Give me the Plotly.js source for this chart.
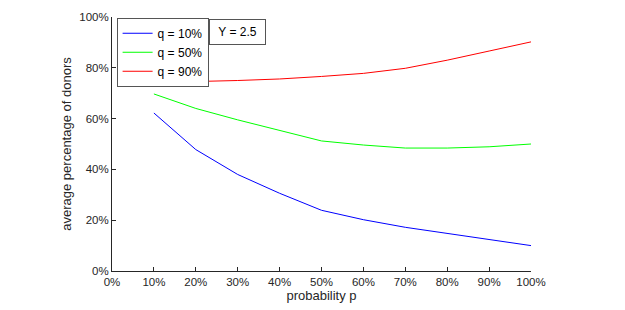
<!DOCTYPE html>
<html>
<head>
<meta charset="utf-8">
<script src="https://cdn.plot.ly/plotly-3.0.1.min.js"></script>
<style>html,body{margin:0;padding:0;background:#fff}#chart{width:625px;height:310px}</style>
</head>
<body>
<div id="chart"></div>
<script>
const probabilityP = [10, 20, 30, 40, 50, 60, 70, 80, 90, 100];
const q10 = [62.2, 47.8, 38.0, 30.6, 23.9, 20.2, 17.2, 14.8, 12.5, 10.0];
const q50 = [69.7, 64.0, 59.5, 55.3, 51.2, 49.6, 48.4, 48.4, 48.9, 50.0];
const q90 = [74.9, 74.6, 75.0, 75.6, 76.6, 77.8, 79.8, 83.0, 86.6, 90.2];
const seriesNames = ["q = 10%", "q = 50%", "q = 90%"];
const xTickVals = [0, 10, 20, 30, 40, 50, 60, 70, 80, 90, 100];
const yTickVals = [0, 20, 40, 60, 80, 100];
const annotationText = "Y = 2.5";

const colors = ["#0000ff", "#00ff00", "#ff0000"];
const series = [q10, q50, q90];
const traces = series.map((s, i) => ({
  x: probabilityP, y: s, type: "scatter", mode: "lines",
  name: seriesNames[i], line: {color: colors[i], width: 1}
}));

const FONT = "Liberation Sans, Arial, Helvetica, sans-serif";
const axisCommon = {
  range: [0, 100],
  ticks: "inside", ticklen: 4, tickcolor: "#262626", tickwidth: 1,
  showline: true, linecolor: "#262626", linewidth: 1,
  showgrid: false, zeroline: false, mirror: false,
  tickfont: {family: FONT, size: 11.5, color: "#262626"}
};

const layout = {
  width: 625, height: 310,
  margin: {l: 112, r: 94, t: 17, b: 39},
  paper_bgcolor: "#fff", plot_bgcolor: "#fff",
  font: {family: FONT, color: "#262626"},
  xaxis: Object.assign({}, axisCommon, {
    tickvals: xTickVals, ticktext: xTickVals.map(v => v + "%"),
    title: {text: "probability p", font: {family: FONT, size: 13, color: "#262626"}, standoff: 3}
  }),
  yaxis: Object.assign({}, axisCommon, {
    tickvals: yTickVals, ticktext: yTickVals.map(v => v + "%"),
    title: {text: "average percentage of donors", font: {family: FONT, size: 13, color: "#262626"}, standoff: 4}
  }),
  showlegend: true,
  legend: {
    x: 0.011, y: 0.997, xanchor: "left", yanchor: "top",
    bgcolor: "#fff", bordercolor: "#555", borderwidth: 1,
    font: {family: FONT, size: 12, color: "#000"},
    itemwidth: 30, tracegroupgap: 0
  },
  annotations: [{
    xref: "paper", yref: "paper", x: 0.232, y: 0.992, xanchor: "left", yanchor: "top",
    text: "&nbsp;" + annotationText + "&nbsp;", showarrow: false,
    font: {family: FONT, size: 12, color: "#000"},
    bordercolor: "#555", borderwidth: 1, borderpad: 5, bgcolor: "#fff"
  }]
};

Plotly.newPlot("chart", traces, layout, {displayModeBar: false, staticPlot: true});
</script>
</body>
</html>
